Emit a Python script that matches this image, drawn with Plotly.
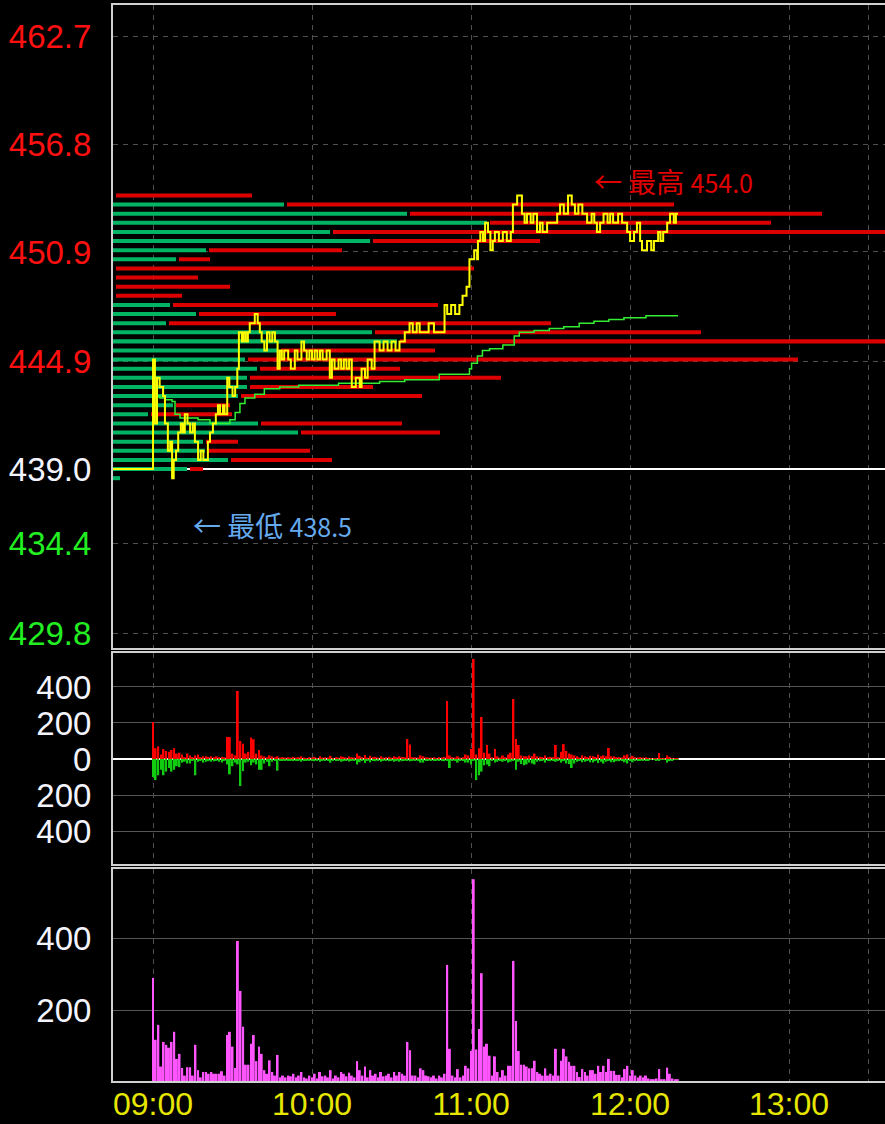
import plotly.graph_objects as go
import pandas as pd

# ---------------- data ----------------
DAY = "2024-01-02"
prev_close = 439.0
day_high = 454.0
day_low = 438.5
high_minute = 156.6   # minutes after 09:00
low_minute = 7.2

axis_start_min = -15.1   # minutes relative to 09:00 (left edge)
axis_end_min = 276.2     # right edge

# intraday trade price (minute after 09:00, price)
price_ticks = [
    (-15.1, 439.0), (0.0, 445.0), (0.7, 441.5), (1.5, 444.0), (2.5, 443.5), (3.8, 443.0),
    (4.5, 441.5), (5.6, 440.0), (6.5, 440.5), (7.2, 438.5), (7.8, 439.5), (8.7, 440.0),
    (9.5, 441.0), (10.5, 441.5), (11.3, 441.0), (12.0, 442.0), (13.0, 441.5), (14.0, 441.0),
    (15.0, 441.5), (15.8, 440.5), (17.0, 439.5), (18.0, 440.0), (19.0, 439.5), (20.7, 440.5),
    (21.5, 441.0), (22.6, 441.5), (23.7, 442.0), (24.5, 442.5), (25.3, 442.0), (26.4, 442.5),
    (27.0, 442.0), (28.0, 444.0), (28.8, 443.5), (30.0, 443.0), (31.0, 443.5), (31.8, 444.5),
    (32.4, 446.5), (33.5, 446.0), (34.2, 446.5), (35.0, 446.0), (35.8, 446.5), (36.5, 447.0),
    (38.4, 447.5), (39.5, 447.0), (40.3, 446.5), (41.0, 446.0), (42.0, 445.5), (43.0, 446.5),
    (44.0, 446.0), (45.0, 446.5), (46.0, 446.0), (47.0, 444.5), (47.8, 445.5), (48.6, 445.0),
    (49.5, 445.5), (51.0, 445.0), (52.0, 444.5), (53.5, 445.5), (54.5, 445.0), (56.0, 446.0),
    (57.0, 445.5), (58.0, 445.0), (59.0, 445.5), (60.0, 445.0), (61.0, 445.5), (62.0, 445.0),
    (63.0, 445.5), (64.0, 445.0), (65.5, 445.5), (66.7, 444.0), (67.5, 445.0), (68.5, 444.5),
    (70.0, 445.0), (71.0, 444.5), (72.0, 445.0), (73.0, 444.5), (74.0, 445.0), (75.0, 443.5),
    (76.5, 444.0), (78.0, 443.5), (78.7, 444.5), (80.0, 444.0), (81.0, 445.0), (82.5, 444.5),
    (83.6, 446.0), (85.5, 445.5), (87.0, 446.0), (88.5, 445.5), (90.0, 446.0), (91.5, 445.5),
    (93.0, 446.0), (95.0, 446.5), (96.8, 447.0), (98.0, 446.5), (99.5, 447.0), (100.6, 446.5),
    (104.0, 447.0), (106.0, 446.5), (110.0, 448.0), (111.0, 447.5), (112.5, 448.0), (114.0, 447.5),
    (115.6, 448.0), (116.8, 448.5), (118.3, 449.0), (119.4, 450.5), (121.2, 451.0), (122.3, 450.5),
    (122.6, 451.5), (123.5, 452.0), (124.5, 451.5), (125.3, 452.5), (126.4, 452.0), (127.3, 451.0),
    (128.2, 451.5), (129.0, 452.0), (130.5, 451.5), (132.0, 452.0), (133.5, 451.5), (135.0, 452.0),
    (135.8, 453.5), (137.4, 454.0), (139.2, 453.0), (140.2, 452.5), (141.1, 453.0), (142.5, 452.5),
    (143.5, 453.0), (144.9, 452.0), (146.0, 452.5), (147.0, 452.0), (148.7, 452.5), (152.5, 453.0),
    (153.6, 453.5), (155.0, 453.0), (156.6, 454.0), (158.0, 453.5), (159.2, 453.0), (160.5, 453.5),
    (162.0, 453.0), (163.8, 452.5), (165.5, 453.0), (166.5, 452.5), (167.5, 452.0), (168.7, 452.5),
    (170.0, 453.0), (171.5, 452.5), (172.5, 453.0), (173.6, 452.5), (175.5, 453.0), (177.0, 452.5),
    (178.9, 452.0), (180.0, 451.5), (181.5, 452.0), (182.6, 452.5), (183.8, 451.5), (184.5, 451.0),
    (186.4, 451.5), (188.0, 451.0), (189.0, 451.5), (190.6, 452.0), (191.5, 451.5), (192.5, 452.0),
    (194.0, 452.5), (195.1, 453.0), (196.5, 452.5), (197.3, 453.0), (198.1, 453.0),
]

# average price line (minute after 09:00, price)
avg_ticks = [
    (0.0, 445.0), (0.7, 443.0), (2.6, 442.9), (4.5, 442.8), (7.2, 442.7), (8.3, 442.0),
    (10.2, 441.8), (17.0, 441.7), (21.5, 441.5), (29.0, 441.7), (31.0, 442.1), (32.8, 442.6),
    (34.7, 442.9), (38.4, 443.1), (42.0, 443.4), (47.8, 443.5), (55.0, 443.6), (70.0, 443.7),
    (85.5, 443.8), (95.0, 443.9), (108.0, 444.2), (119.4, 444.5), (120.2, 444.8), (122.4, 445.2),
    (124.3, 445.5), (127.0, 445.6), (132.0, 445.8), (136.3, 446.3), (138.2, 446.5), (143.8, 446.6),
    (149.5, 446.7), (155.0, 446.8), (160.8, 447.0), (166.4, 447.1), (172.0, 447.2), (177.7, 447.3),
    (186.0, 447.4), (198.1, 447.4),
]

# volume-at-price profile
profile_prices = [454.0, 453.5, 453.0, 452.5, 452.0, 451.5, 451.0, 450.5, 450.0, 449.5, 449.0,
                  448.5, 448.0, 447.5, 447.0, 446.5, 446.0, 445.5, 445.0, 444.5, 444.0, 443.5,
                  443.0, 442.5, 442.0, 441.5, 441.0, 440.5, 440.0, 439.5, 439.0, 438.5]
profile_sell = [0, 171, 294, 374, 217, 257, 93, 63, 0, 0, 0,
                0, 57, 83, 53, 259, 284, 165, 132, 144, 134, 134,
                125, 60, 35, 145, 185, 90, 92, 115, 74, 7]
profile_buy = [136, 387, 412, 281, 560, 167, 133, 31, 358, 82, 114,
               66, 265, 137, 382, 326, 490, 154, 550, 140, 251, 123,
               181, 54, 81, 141, 139, 32, 102, 101, 13, 0]

# per-minute volumes from 09:00
buy_vol = [
    205, 60, 70, 25, 55, 45, 40, 50, 60, 30,
    35, 25, 10, 30, 20, 10, 20, 25, 10, 15,
    15, 12, 15, 10, 15, 10, 12, 10, 122, 122,
    30, 20, 378, 100, 85, 30, 40, 120, 110, 30,
    50, 20, 15, 10, 20, 15, 10, 15, 8, 10,
    8, 10, 8, 12, 8, 10, 15, 8, 6, 10,
    8, 12, 6, 15, 8, 10, 8, 18, 6, 10,
    8, 15, 12, 8, 14, 10, 8, 30, 18, 10,
    22, 8, 18, 10, 12, 8, 15, 8, 10, 12,
    8, 15, 10, 15, 12, 10, 111, 80, 10, 10,
    8, 20, 15, 10, 8, 8, 10, 6, 10, 8,
    12, 322, 20, 10, 8, 15, 8, 10, 25, 20,
    55, 556, 25, 60, 233, 35, 78, 30, 10, 55,
    15, 8, 20, 10, 25, 35, 333, 111, 78, 20,
    15, 15, 20, 15, 30, 15, 12, 10, 20, 10,
    12, 10, 78, 10, 40, 83, 45, 30, 25, 20,
    15, 8, 20, 15, 10, 18, 15, 12, 25, 15,
    20, 15, 61, 15, 15, 10, 10, 8, 20, 25,
    10, 18, 10, 8, 10, 8, 10, 6, 5, 5,
    6, 33, 5, 5, 20, 12, 6, 5, 5,
]
sell_vol = [
    100, 117, 90, 60, 90, 70, 50, 70, 60, 40,
    45, 20, 15, 25, 25, 10, 90, 15, 8, 20,
    15, 12, 15, 12, 10, 15, 20, 10, 30, 85,
    40, 20, 30, 150, 67, 20, 15, 35, 20, 30,
    60, 60, 25, 15, 40, 15, 10, 65, 8, 10,
    8, 10, 10, 12, 8, 10, 15, 8, 6, 10,
    8, 12, 6, 15, 10, 10, 8, 20, 6, 10,
    8, 15, 12, 10, 14, 10, 8, 30, 18, 10,
    22, 8, 18, 10, 12, 8, 15, 10, 10, 12,
    8, 15, 10, 15, 12, 10, 10, 12, 10, 10,
    8, 20, 20, 10, 10, 8, 10, 6, 10, 8,
    12, 10, 50, 10, 8, 20, 8, 10, 20, 20,
    30, 10, 117, 90, 70, 35, 30, 40, 10, 20,
    15, 8, 15, 10, 20, 15, 10, 60, 15, 28,
    35, 30, 20, 25, 30, 15, 12, 10, 20, 10,
    12, 10, 15, 10, 20, 12, 25, 28, 50, 25,
    15, 8, 18, 15, 10, 18, 20, 12, 22, 15,
    25, 15, 10, 18, 18, 12, 12, 8, 18, 25,
    10, 18, 10, 8, 10, 8, 10, 6, 5, 5,
    6, 8, 5, 5, 20, 12, 6, 5, 5,
]
total_vol = [
    290, 119, 160, 45, 113, 105, 97, 113, 141, 66,
    80, 41, 20, 43, 43, 20, 105, 35, 15, 30,
    30, 25, 30, 25, 25, 25, 32, 20, 132, 141,
    100, 41, 392, 254, 155, 50, 50, 108, 132, 60,
    100, 80, 35, 25, 62, 30, 20, 77, 15, 20,
    15, 20, 18, 25, 15, 20, 30, 15, 12, 20,
    15, 25, 12, 30, 18, 20, 15, 35, 12, 20,
    15, 30, 25, 18, 28, 20, 15, 60, 35, 20,
    45, 15, 35, 20, 25, 15, 30, 18, 20, 25,
    15, 30, 20, 30, 25, 20, 113, 90, 20, 20,
    15, 40, 35, 20, 18, 15, 20, 12, 20, 15,
    25, 326, 94, 20, 15, 38, 15, 20, 47, 40,
    88, 563, 92, 149, 303, 100, 108, 75, 20, 73,
    30, 15, 35, 20, 47, 47, 337, 171, 88, 50,
    50, 45, 40, 40, 61, 30, 25, 20, 40, 20,
    25, 20, 94, 20, 61, 94, 73, 58, 47, 47,
    30, 16, 38, 30, 20, 35, 35, 25, 47, 30,
    47, 30, 66, 33, 33, 22, 22, 15, 38, 47,
    20, 35, 20, 15, 20, 15, 20, 12, 10, 10,
    12, 38, 10, 10, 42, 25, 12, 10, 10,
]

hour_ticks = ["09:00", "10:00", "11:00", "12:00", "13:00", "13:30"]
hour_labels = ["09:00", "10:00", "11:00", "12:00", "13:00", ""]
price_tick_vals = [462.7, 456.8, 450.9, 444.9, 439.0, 434.94, 430.0]
price_tick_text = ["462.7", "456.8", "450.9", "444.9", "439.0", "434.4", "429.8"]
price_tick_colors = ["#ff1010", "#ff1010", "#ff1010", "#ff1010", "#f4f4ff", "#22ee22", "#22ee22"]
diff_tick_vals = [-400, -200, 0, 200, 400]
diff_tick_text = ["400", "200", "0", "200", "400"]
vol_tick_vals = [200, 400]
vol_tick_text = ["200", "400"]

# ---------------- helpers ----------------
T0 = pd.Timestamp(f"{DAY} 09:00:00")


def at(minute):
    return (T0 + pd.Timedelta(minutes=minute)).strftime("%Y-%m-%d %H:%M:%S.%f")


x_start = at(axis_start_min)
x_end = at(axis_end_min)
PROFILE_MS_PER_LOT = 60000 / 2.65
PROFILE_GAP = 3

fig = go.Figure()

# volume profile (green = sell, red = buy)
fig.add_trace(go.Bar(
    y=profile_prices, x=[v * PROFILE_MS_PER_LOT for v in profile_sell],
    base=[x_start] * len(profile_prices), orientation="h", width=0.22,
    marker=dict(color="#00b464", line=dict(width=0)), xaxis="x", yaxis="y",
))
red_base = [at(axis_start_min + (s + PROFILE_GAP) * PROFILE_MS_PER_LOT / 60000) for s in profile_sell]
fig.add_trace(go.Bar(
    y=profile_prices, x=[v * PROFILE_MS_PER_LOT for v in profile_buy],
    base=red_base, orientation="h", width=0.22,
    marker=dict(color="#dd0000", line=dict(width=0)), xaxis="x", yaxis="y",
))

# average price and trade price
fig.add_trace(go.Scatter(
    x=[at(m) for m, _ in avg_ticks], y=[p for _, p in avg_ticks], mode="lines",
    line=dict(color="#33ee33", width=1.5, shape="hv"), xaxis="x", yaxis="y",
))
fig.add_trace(go.Scatter(
    x=[at(m) for m, _ in price_ticks], y=[p for _, p in price_ticks], mode="lines",
    line=dict(color="#ffff00", width=2, shape="hv"), xaxis="x", yaxis="y",
))

# buy / sell volume
fig.add_trace(go.Bar(
    x=[at(i) for i in range(len(buy_vol))], y=buy_vol, width=40000,
    marker=dict(color="#ff0000", line=dict(width=0)), xaxis="x2", yaxis="y2",
))
fig.add_trace(go.Bar(
    x=[at(i) for i in range(len(sell_vol))], y=[-v for v in sell_vol], width=40000,
    marker=dict(color="#11cc11", line=dict(width=0)), xaxis="x2", yaxis="y2",
))

# total volume
fig.add_trace(go.Bar(
    x=[at(i) for i in range(len(total_vol))], y=total_vol, width=45000,
    marker=dict(color="#ff55ff", line=dict(width=0)), xaxis="x3", yaxis="y3",
))

# previous close reference line
fig.add_shape(type="line", xref="x", yref="y", x0=x_start, x1=x_end,
              y0=prev_close, y1=prev_close, line=dict(color="#ffffff", width=2), layer="between")

# high / low notes
fig.add_annotation(
    x=at(high_minute), y=day_high, xref="x", yref="y", xanchor="left", yanchor="middle",
    xshift=24, yshift=14, showarrow=False,
    text=f"← 最高 <span style='font-size:25px'>{day_high:.1f}</span>",
    font=dict(family="Noto Sans CJK TC", size=28, color="#e00000"),
)
fig.add_annotation(
    x=at(low_minute), y=day_low, xref="x", yref="y", xanchor="left", yanchor="middle",
    xshift=19, yshift=-47, showarrow=False,
    text=f"← 最低 <span style='font-size:25px'>{day_low:.1f}</span>",
    font=dict(family="Noto Sans CJK TC", size=28, color="#66aaee"),
)

BORDER = "#d0d0d0"
GRID = "#505050"
TICKFONT = dict(family="Liberation Sans", size=33, color="#f4f4ff")

xcommon = dict(type="date", range=[x_start, x_end], tickmode="array",
               tickvals=[f"{DAY} {h}" for h in hour_ticks], showgrid=True,
               gridcolor=GRID, griddash="5px,5px", gridwidth=1, zeroline=False,
               showline=True, linecolor=BORDER, linewidth=2, mirror=True, ticks="",
               automargin=False)

fig.update_layout(
    width=885, height=1124,
    margin=dict(l=113, r=0, t=5, b=43),
    paper_bgcolor="#000000", plot_bgcolor="#000000",
    showlegend=False, barmode="overlay",
    xaxis=dict(**xcommon, anchor="y", showticklabels=False),
    xaxis2=dict(**xcommon, anchor="y2", matches="x", showticklabels=False),
    xaxis3=dict(**xcommon, anchor="y3", matches="x", showticklabels=True,
                ticktext=hour_labels, ticklabelstandoff=-6,
                tickfont=dict(family="Liberation Sans", size=32, color="#e6e600")),
    yaxis=dict(domain=[0.4024, 1.0], range=[429.19, 464.44], tickmode="array",
               tickvals=price_tick_vals,
               ticktext=[f"<span style='color:{c}'>{t}</span>" for t, c in zip(price_tick_text, price_tick_colors)],
               tickfont=TICKFONT, showgrid=True, gridcolor=GRID, griddash="5px,5px",
               zeroline=False, showline=True, linecolor=BORDER, linewidth=2, mirror=False,
               ticks="", ticklabelstandoff=13, automargin=False),
    yaxis2=dict(domain=[0.2017, 0.3978], range=[-583, 589], tickmode="array",
                tickvals=diff_tick_vals, ticktext=diff_tick_text, tickfont=TICKFONT,
                showgrid=True, gridcolor="#555555", zeroline=True, zerolinecolor="#ffffff",
                zerolinewidth=2, showline=True, linecolor=BORDER, linewidth=2,
                ticks="", ticklabelstandoff=13, automargin=False),
    yaxis3=dict(domain=[0.0, 0.197], range=[5, 591], tickmode="array",
                tickvals=vol_tick_vals, ticktext=vol_tick_text, tickfont=TICKFONT,
                showgrid=True, gridcolor="#555555", zeroline=False, showline=True,
                linecolor=BORDER, linewidth=2, ticks="", ticklabelstandoff=13,
                automargin=False),
)

fig.write_html(
    "out.html",
    config={"displayModeBar": False},
    post_script="document.body.style.margin='0';document.body.style.overflow='hidden';",
)
